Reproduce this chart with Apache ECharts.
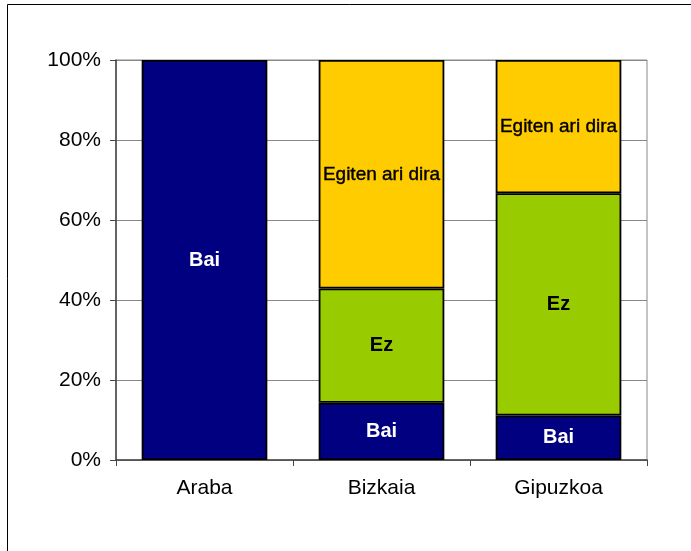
<!DOCTYPE html>
<html style="height: 100%">
<head>
    <meta charset="utf-8">
</head>
<body style="height: 100%; margin: 0; background: #fff">
<div id="container" style="width: 691px; height: 551px"></div>
<script type="text/javascript" src="https://cdn.jsdelivr.net/npm/echarts@6.0.0/dist/echarts.min.js"></script>
<script type="text/javascript">
  // herrialdeak
  const categories = ['Araba', 'Bizkaia', 'Gipuzkoa'];
  // portzentaiak (%)
  const bai = [100, 14.29, 11.11];
  const ez = [null, 28.57, 55.56];
  const egiten = [null, 57.14, 33.33];
  const yTicks = [0, 20, 40, 60, 80, 100];

  var dom = document.getElementById('container');
  var myChart = echarts.init(dom);
  var font = 'Liberation Sans, Arial, sans-serif';

  function serie(name, data, color, label) {
    return {
      name: name,
      type: 'bar',
      stack: 'total',
      data: data,
      barCategoryGap: '29%',
      itemStyle: {
        color: color,
        borderColor: '#000',
        borderWidth: 1.8
      },
      label: Object.assign({
        show: true,
        position: 'inside',
        formatter: name,
        fontFamily: font,
        fontSize: 20
      }, label)
    };
  }

  var option = {
    animation: false,
    backgroundColor: '#fff',
    graphic: [{
      type: 'rect',
      shape: { x: 7.5, y: 4.5, width: 720, height: 600 },
      style: { fill: 'none', stroke: '#000', lineWidth: 1 }
    }],
    grid: {
      left: 116,
      right: 44,
      top: 60,
      bottom: 91,
      show: true,
      borderColor: '#888',
      borderWidth: 1
    },
    xAxis: {
      type: 'category',
      data: categories,
      axisLine: { lineStyle: { color: '#444', width: 1.5 } },
      axisTick: { show: true, length: 6, lineStyle: { color: '#444' } },
      axisLabel: { color: '#000', fontSize: 21, fontFamily: font, margin: 18 }
    },
    yAxis: {
      type: 'value',
      min: yTicks[0],
      max: yTicks[yTicks.length - 1],
      interval: 20,
      axisLine: { show: true, lineStyle: { color: '#444', width: 1.5 } },
      axisTick: { show: true, length: 6, lineStyle: { color: '#444' } },
      splitLine: { lineStyle: { color: '#888', width: 1 } },
      axisLabel: {
        color: '#000',
        fontSize: 21,
        fontFamily: font,
        margin: 15,
        formatter: '{value}%'
      }
    },
    series: [
      serie('Bai', bai, '#000080', { color: '#fff', fontWeight: 'bold' }),
      serie('Ez', ez, '#99CC00', { color: '#000', fontWeight: 'bold' }),
      serie('Egiten ari dira', egiten, '#FFCC00', {
        color: '#000', fontSize: 19,
        textBorderColor: '#000', textBorderWidth: 0.4
      })
    ]
  };
  myChart.setOption(option);
</script>
</body>
</html>
